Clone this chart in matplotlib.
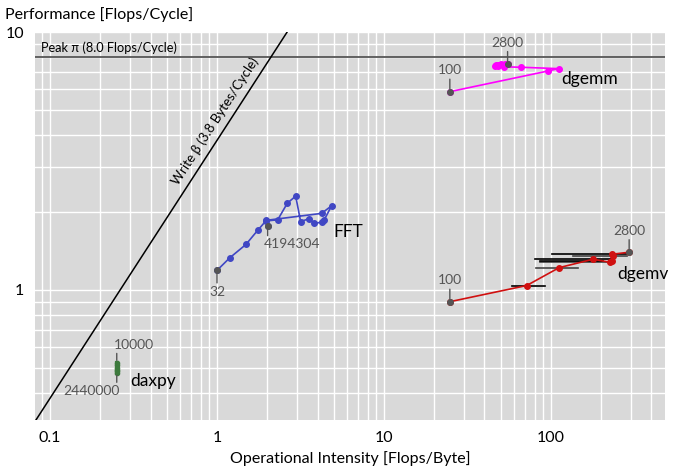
import numpy as np
import matplotlib
matplotlib.use("Agg")
import matplotlib.pyplot as plt
from matplotlib.ticker import FixedLocator, NullFormatter

plt.rcParams['font.family'] = ['Lato', 'DejaVu Sans']

# ---------------- data ----------------
peak_perf = 8.0          # Flops/Cycle
write_bw = 3.8           # Bytes/Cycle

x_ticks = [0.1, 1, 10, 100]
x_tick_labels = ["0.1", "1", "10", "100"]
y_ticks = [1, 10]
y_tick_labels = ["1", "10"]

dgemm_x = [24.8, 96, 111, 66, 52, 48, 46.5, 47, 48.5, 50.5, 53, 55]
dgemm_y = [5.87, 7.06, 7.21, 7.30, 7.33, 7.35, 7.38, 7.42, 7.46, 7.49, 7.52, 7.51]
dgemm_labels = ["100", "2800"]

dgemv_x = [24.8, 71.6, 112, 179, 225, 232, 236, 233, 294]
dgemv_y = [0.90, 1.04, 1.22, 1.315, 1.28, 1.30, 1.35, 1.375, 1.40]
dgemv_xlo = [24.8, 58.7, 81, 80, 86, 86, 135, 102, 290]
dgemv_xhi = [24.8, 92.4, 145, 231, 225, 206, 285, 285, 300]
dgemv_labels = ["100", "2800"]

fft_x = [1.00, 1.19, 1.49, 1.75, 1.96, 2.31, 2.64, 2.96, 3.17, 3.57, 3.81,
         4.23, 4.39, 4.86, 4.23, 1.96, 2.01]
fft_y = [1.19, 1.33, 1.50, 1.70, 1.85, 1.87, 2.17, 2.31, 1.84, 1.89, 1.81,
         1.83, 1.87, 2.12, 1.98, 1.86, 1.77]
fft_labels = ["32", "4194304"]

daxpy_x = [0.251, 0.251, 0.251, 0.251, 0.251, 0.251]
daxpy_y = [0.52, 0.51, 0.50, 0.49, 0.485, 0.478]
daxpy_labels = ["10000", "2440000"]

# ---------------- figure ----------------
W, H = 673, 468
fig = plt.figure(figsize=(W / 100, H / 100), dpi=100)
ax = fig.add_axes([35 / W, 1 - 420 / H, 630 / W, 388 / H])
ax.set_facecolor("#d9d9d9")
ax.set_xscale("log")
ax.set_yscale("log")
ax.set_xlim(0.0813, 482)
ax.set_ylim(0.313, 10)

# grid (major + minor, all white)
xminor = [m * 10.0 ** e for e in range(-2, 3) for m in range(2, 10)]
yminor = [m * 10.0 ** e for e in range(-1, 1) for m in range(2, 10)]
ax.xaxis.set_major_locator(FixedLocator(x_ticks))
ax.xaxis.set_minor_locator(FixedLocator(xminor))
ax.yaxis.set_major_locator(FixedLocator(y_ticks))
ax.yaxis.set_minor_locator(FixedLocator(yminor))
ax.set_xticklabels(x_tick_labels)
ax.set_yticklabels(y_tick_labels)
ax.xaxis.set_minor_formatter(NullFormatter())
ax.yaxis.set_minor_formatter(NullFormatter())
ax.grid(True, which="both", color="white", lw=1.0)
ax.set_axisbelow(True)
ax.tick_params(which="both", length=0, labelsize=11.5, colors="black")
ax.tick_params(axis="x", pad=8)
ax.tick_params(axis="y", pad=8)
for s in ax.spines.values():
    s.set_visible(False)

# roofline
xl = np.array(ax.get_xlim())
ax.plot(xl, [peak_perf, peak_perf], color="#555555", lw=1.3, zorder=2)
ax.plot(xl, write_bw * xl, color="black", lw=1.1, zorder=2)
ax.text(0.088, peak_perf * 1.03, "Peak π (8.0 Flops/Cycle)", fontsize=9.2,
        ha="left", va="bottom", color="black")

# rotated label along the bandwidth line
p1 = ax.transData.transform((0.1, 0.38))
p2 = ax.transData.transform((1.0, 3.8))
ang = np.degrees(np.arctan2(p2[1] - p1[1], p2[0] - p1[0]))
d = 4.0
off = (-d * np.sin(np.radians(ang)), d * np.cos(np.radians(ang)))
xm = 1.12
ax.annotate("Write β (3.8 Bytes/Cycle)", xy=(xm, write_bw * xm), xytext=off,
            textcoords="offset points", rotation=ang, rotation_mode="anchor",
            ha="center", va="bottom", fontsize=9.6)

gray = "#555555"


def tick_label(x, y, text, up, dx=0, ha="center", tick=7, gap=2):
    sgn = 1 if up else -1
    ax.annotate("", xy=(x, y), xytext=(0, sgn * (tick + 2)), textcoords="offset points",
                arrowprops=dict(arrowstyle="-", color=gray, lw=1.0, shrinkA=0, shrinkB=2))
    ax.annotate(text, xy=(x, y), xytext=(dx, sgn * (tick + 2 + gap)),
                textcoords="offset points", ha=ha,
                va="bottom" if up else "top", fontsize=10, color=gray)


def series(xs, ys, color, ms=4, lw=1.2):
    ax.plot(xs, ys, color=color, lw=lw, marker="o", ms=ms, zorder=3)
    ax.plot([xs[0], xs[-1]], [ys[0], ys[-1]], ls="none", marker="o", ms=ms,
            color=gray, zorder=4)


# dgemv error bars
for xv, yv, lo, hi, i in zip(dgemv_x, dgemv_y, dgemv_xlo, dgemv_xhi, range(len(dgemv_x))):
    ax.plot([lo, hi], [yv, yv], color="black" if i % 2 else "#444444", lw=1.2, zorder=2.5)

series(dgemm_x, dgemm_y, "#ff00ff")
series(dgemv_x, dgemv_y, "#d01010")
series(fft_x, fft_y, "#4047c4")
ax.plot(daxpy_x, daxpy_y, color="#3d7a3d", lw=3, marker="o", ms=3, zorder=3)

tick_label(dgemm_x[0], dgemm_y[0], dgemm_labels[0], True)
tick_label(dgemm_x[-1], dgemm_y[-1], dgemm_labels[1], True)
tick_label(dgemv_x[0], dgemv_y[0], dgemv_labels[0], True)
tick_label(dgemv_x[-1], dgemv_y[-1], dgemv_labels[1], True)
tick_label(fft_x[0], fft_y[0], fft_labels[0], False)
tick_label(fft_x[-1], fft_y[-1], fft_labels[1], False, dx=-3, ha="left", tick=5)
tick_label(daxpy_x[0], daxpy_y[0], daxpy_labels[0], True, dx=-2, ha="left", tick=5)
tick_label(daxpy_x[-1], daxpy_y[-1], daxpy_labels[1], False, dx=2, ha="right", tick=5)

ax.text(115, 6.57, "dgemm", fontsize=12.5, ha="left", va="center")
ax.text(248, 1.153, "dgemv", fontsize=12.5, ha="left", va="center")
ax.text(4.95, 1.68, "FFT", fontsize=12.5, ha="left", va="center")
ax.text(0.301, 0.444, "daxpy", fontsize=12.5, ha="left", va="center")

ax.set_xlabel("Operational Intensity [Flops/Byte]", fontsize=11.5, labelpad=4)
fig.text(5 / W, 1 - 15 / H, "Performance [Flops/Cycle]", fontsize=11.5,
         ha="left", va="center")

fig.savefig("out.png", dpi=100)
